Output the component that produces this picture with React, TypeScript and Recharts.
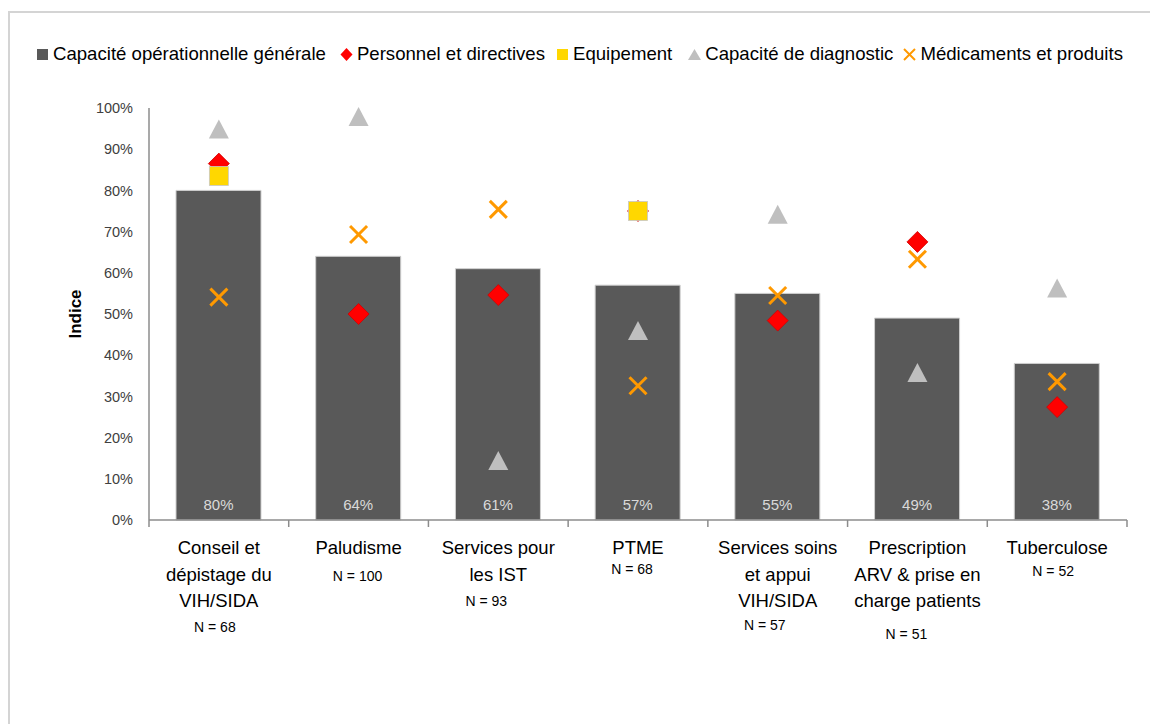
import React from "react";
import {
  ComposedChart,
  Bar,
  Scatter,
  XAxis,
  YAxis,
  Legend,
  LabelList,
} from "recharts";

// category names (line breaks as in the original) and sample sizes
const categories = [
  "Conseil et\ndépistage du\nVIH/SIDA",
  "Paludisme",
  "Services pour\nles IST",
  "PTME",
  "Services soins\net appui\nVIH/SIDA",
  "Prescription\nARV & prise en\ncharge patients",
  "Tuberculose",
];
const sampleSizes = [68, 100, 93, 68, 57, 51, 52];

// index values, in %
const capacite = [80, 64, 61, 57, 55, 49, 38];
const personnel = [86.5, 50, 54.6, 75, 48.4, 67.5, 27.4];
const equipement = [83.5, null, null, 75, null, null, null];
const diagnostic = [94.8, 97.8, 14.3, 45.9, 74.1, 35.7, 56.2];
const medicaments = [54.1, 69.3, 75.4, 32.6, 54.5, 63.3, 33.6];

const yTicks = [0, 10, 20, 30, 40, 50, 60, 70, 80, 90, 100];

const seriesOrder = ["capacite", "personnel", "equipement", "diagnostic", "medicaments"];

// where the "N = .." note sits under each label (dx, extra gap)
const nLabelShift = [
  [-4, 25],
  [-1, 27],
  [-12, 25],
  [-6, 20],
  [-13, 23],
  [-11, 32],
  [-4, 22],
];

const FONT = '"Liberation Sans", Arial, sans-serif';
const BAR_COLOR = "#595959";
const RED = "#ff0000";
const YELLOW = "#ffd700";
const GREY = "#bfbfbf";
const ORANGE = "#ff9900";

const data = categories.map((name, i) => ({
  name,
  capacite: capacite[i],
  personnel: personnel[i],
  equipement: equipement[i],
  diagnostic: diagnostic[i],
  medicaments: medicaments[i],
}));

const ok = (v: any) => typeof v === "number" && isFinite(v);

function DiamondShape(props: any) {
  const { cx, cy } = props;
  if (!ok(cx) || !ok(cy)) return null;
  const r = 10.5;
  return (
    <polygon
      points={`${cx},${cy - r} ${cx + r},${cy} ${cx},${cy + r} ${cx - r},${cy}`}
      fill={RED}
      stroke="#d00000"
      strokeWidth={0.8}
    />
  );
}

function SquareShape(props: any) {
  const { cx, cy } = props;
  if (!ok(cx) || !ok(cy)) return null;
  const r = 9.5;
  return (
    <rect x={cx - r} y={cy - r} width={2 * r} height={2 * r} fill={YELLOW} stroke="#c8c8c8" strokeWidth={0.8} />
  );
}

function TriangleShape(props: any) {
  const { cx, cy } = props;
  if (!ok(cx) || !ok(cy)) return null;
  return (
    <polygon
      points={`${cx},${cy - 10} ${cx + 10},${cy + 9} ${cx - 10},${cy + 9}`}
      fill={GREY}
    />
  );
}

function CrossShape(props: any) {
  const { cx, cy } = props;
  if (!ok(cx) || !ok(cy)) return null;
  const r = 8.5;
  return (
    <g stroke={ORANGE} strokeWidth={3} strokeLinecap="butt">
      <line x1={cx - r} y1={cy - r} x2={cx + r} y2={cy + r} />
      <line x1={cx - r} y1={cy + r} x2={cx + r} y2={cy - r} />
    </g>
  );
}

function legendIcon(key: string) {
  switch (key) {
    case "capacite":
      return <rect x={1} y={2} width={11} height={11} fill={BAR_COLOR} />;
    case "personnel":
      return <polygon points="6.5,1 12.5,7.5 6.5,14 0.5,7.5" fill={RED} />;
    case "equipement":
      return <rect x={1} y={2} width={11} height={11} fill={YELLOW} />;
    case "diagnostic":
      return <polygon points="6.5,2 13,13 0,13" fill={GREY} />;
    default:
      return (
        <g stroke={ORANGE} strokeWidth={2}>
          <line x1={1} y1={2} x2={12} y2={13} />
          <line x1={1} y1={13} x2={12} y2={2} />
        </g>
      );
  }
}

const legendGaps = [14, 11, 16, 10, 0];

function LegendContent(props: any) {
  const items = [...(props.payload || [])].sort(
    (a: any, b: any) => seriesOrder.indexOf(String(a.dataKey)) - seriesOrder.indexOf(String(b.dataKey))
  );
  return (
    <div style={{ display: "flex", alignItems: "center", fontFamily: FONT, fontSize: 18.6, color: "#000" }}>
      {items.map((it: any, i: number) => (
        <div key={i} style={{ display: "flex", alignItems: "center", marginRight: legendGaps[i] }}>
          <svg width={13} height={15} style={{ marginRight: 4 }}>
            {legendIcon(String(it.dataKey))}
          </svg>
          <span>{it.value}</span>
        </div>
      ))}
    </div>
  );
}

const PLOT_W = 1150 - 149 - 23;

function CategoryTick(props: any) {
  const { x, y, payload } = props;
  const i = payload?.index ?? props.index ?? 0;
  const half = ok(payload?.offset) && payload.offset > 0 ? payload.offset : PLOT_W / categories.length / 2;
  const lines = categories[i].split("\n");
  const [dx, gap] = nLabelShift[i];
  const lastLineY = y + 34 + (lines.length - 1) * 26.5;
  return (
    <g>
      <line x1={x - half} x2={x - half} y1={y} y2={y + 7} stroke="#8c8c8c" strokeWidth={1.5} />
      {i === categories.length - 1 && (
        <line x1={x + half} x2={x + half} y1={y} y2={y + 7} stroke="#8c8c8c" strokeWidth={1.5} />
      )}
      <text textAnchor="middle" fontFamily={FONT} fontSize={18.5} fill="#000">
        {lines.map((l, k) => (
          <tspan key={k} x={x} y={y + 34 + k * 26.5}>
            {l}
          </tspan>
        ))}
      </text>
      <text x={x + dx} y={lastLineY + gap} textAnchor="middle" fontFamily={FONT} fontSize={14} fill="#000">
        {`N = ${sampleSizes[i]}`}
      </text>
    </g>
  );
}

export default function App() {
  return (
    <div style={{ position: "absolute", left: 0, top: 0, width: 1150, height: 724, background: "#fff" }}>
      <div
        style={{
          position: "absolute",
          left: 8,
          top: 11,
          width: 1142,
          height: 713,
          borderTop: "2px solid #d4d4d4",
          borderLeft: "2px solid #d4d4d4",
          boxSizing: "border-box",
        }}
      />
      <ComposedChart
        width={1150}
        height={724}
        data={data}
        margin={{ top: 108, right: 23, bottom: 24, left: 0 }}
        style={{ fontFamily: FONT }}
      >
        <XAxis
          dataKey="name"
          height={180}
          axisLine={{ stroke: "#8c8c8c", strokeWidth: 1.5 }}
          tickLine={false}
          tickSize={0}
          tickMargin={0}
          interval={0}
          tick={<CategoryTick />}
        />
        <YAxis
          width={149}
          domain={[0, 100]}
          ticks={yTicks}
          tickFormatter={(v) => `${v}%`}
          tick={{ fill: "#404040", fontSize: 14.5, fontFamily: FONT }}
          axisLine={{ stroke: "#8c8c8c", strokeWidth: 1.5 }}
          tickLine={false}
          tickSize={0}
          tickMargin={16}
          label={{
            value: "Indice",
            angle: -90,
            position: "center",
            style: { fontWeight: "bold", fontSize: 17, fill: "#000", fontFamily: FONT },
          }}
        />
        <Legend
          verticalAlign="middle"
          align="center"
          layout="horizontal"
          wrapperStyle={{ top: 43, left: 36, width: 1110 }}
          content={<LegendContent />}
        />
        <Bar
          dataKey="capacite"
          name="Capacité opérationnelle générale"
          fill={BAR_COLOR}
          stroke="#cfcfcf"
          strokeWidth={1}
          barSize={85}
          isAnimationActive={false}
        >
          <LabelList
            dataKey="capacite"
            position="insideBottom"
            offset={10}
            fill="#d9d9d9"
            fontSize={15}
            fontFamily={FONT}
            formatter={(v: any) => `${v}%`}
          />
        </Bar>
        <Scatter dataKey="personnel" name="Personnel et directives" fill={RED} shape={DiamondShape} isAnimationActive={false} />
        <Scatter dataKey="equipement" name="Equipement" fill={YELLOW} shape={SquareShape} isAnimationActive={false} />
        <Scatter dataKey="diagnostic" name="Capacité de diagnostic" fill={GREY} shape={TriangleShape} isAnimationActive={false} />
        <Scatter dataKey="medicaments" name="Médicaments et produits" fill={ORANGE} shape={CrossShape} isAnimationActive={false} />
      </ComposedChart>
    </div>
  );
}
